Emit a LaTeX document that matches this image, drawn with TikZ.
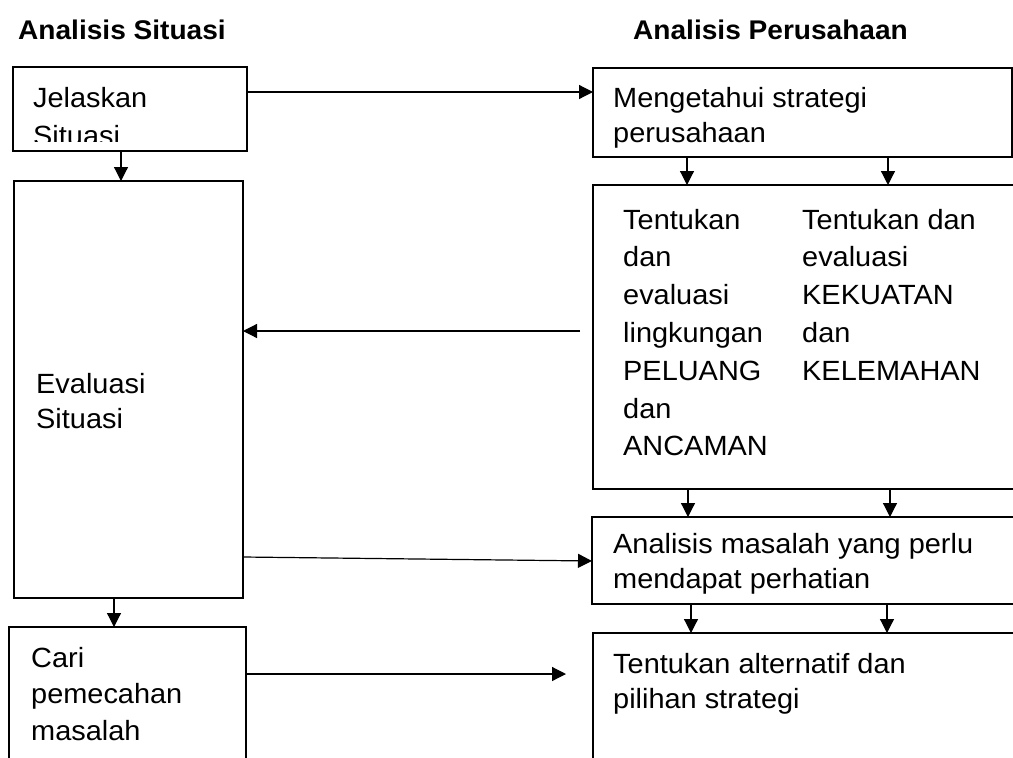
\documentclass[tikz,border=0pt]{standalone}
\usepackage{fontspec}
\setmainfont{Liberation Sans}[FakeStretch=1.04]
\usetikzlibrary{arrows.meta}
\tikzset{
  box/.style={draw, line width=1.5pt, inner sep=0pt, outer sep=0pt},
  arr/.style={line width=1.2pt, -{Triangle[length=14pt,width=14pt]}},
  txt/.style={anchor=base west, inner sep=0pt, align=left, font=\fontsize{27.8}{35}\selectfont},
  ttl/.style={anchor=base west, inner sep=0pt, font=\fontsize{27}{30}\selectfont\bfseries},
}
\begin{document}
\begin{tikzpicture}[x=1pt,y=-1pt]
\useasboundingbox (0,0) rectangle (1013,758);
\clip (0,0) rectangle (1013,758);
% titles
\node[ttl] (t1) at (18,39) {Analisis Situasi};
\node[ttl] (t2) at (633,39) {Analisis Perusahaan};
% boxes
\node[box, minimum width=234pt, minimum height=84pt] (jel) at (130,109) {};
\node[box, minimum width=229pt, minimum height=417pt] (eva) at (128.5,389.5) {};
\node[box, minimum width=237pt, minimum height=160pt] (cari) at (127.5,707) {};
\node[box, minimum width=419pt, minimum height=89pt] (meng) at (802.5,112.5) {};
\node[box, minimum width=440pt, minimum height=304pt] (tent) at (813,337) {};
\node[box, minimum width=440pt, minimum height=87pt] (anal) at (812,560.5) {};
\node[box, minimum width=440pt, minimum height=150pt] (alt) at (813,708) {};
% texts (anchor = baseline of the last line)
\begin{scope}
\clip (0,60) rectangle (250,141);
\node[txt, font=\fontsize{27.8}{38}\selectfont] (jeltxt) at (33,145) {Jelaskan\\Situasi};
\end{scope}
\node[txt] (evatxt) at (36,428) {Evaluasi\\Situasi};
\node[txt, font=\fontsize{27.8}{36.5}\selectfont] (caritxt) at (31,740) {Cari\\pemecahan\\masalah};
\node[txt] (mengtxt) at (613,142) {Mengetahui strategi\\perusahaan};
\node[txt, font=\fontsize{27.8}{37.8}\selectfont] (tenta) at (623,455.8) {Tentukan\\dan\\evaluasi\\lingkungan\\PELUANG\\dan\\ANCAMAN};
\node[txt, font=\fontsize{27.8}{37.8}\selectfont] (tentb) at (802,380.2) {Tentukan dan\\evaluasi\\KEKUATAN\\dan\\KELEMAHAN};
\node[txt] (analtxt) at (613,588) {Analisis masalah yang perlu\\mendapat perhatian};
\node[txt] (alttxt) at (613,708) {Tentukan alternatif dan\\pilihan strategi};
% connectors
\draw[arr] (jel.east |- 0,92) -- (meng.west |- 0,92);
\draw[arr] (jel.south -| 121,0) -- (eva.north -| 121,0);
\draw[arr] (eva.south -| 114,0) -- (cari.north -| 114,0);
\draw[arr] (meng.south -| 687,0) -- (tent.north -| 687,0);
\draw[arr] (meng.south -| 888,0) -- (tent.north -| 888,0);
\draw[arr] (tent.south -| 688,0) -- (anal.north -| 688,0);
\draw[arr] (tent.south -| 890,0) -- (anal.north -| 890,0);
\draw[arr] (anal.south -| 691,0) -- (alt.north -| 691,0);
\draw[arr] (anal.south -| 887,0) -- (alt.north -| 887,0);
\coordinate (tentout) at ([xshift=-13pt]tent.west |- 0,331);
\draw[arr] (tentout) -- (eva.east |- 0,331);
\draw[arr] (eva.east |- 0,557) -- (anal.west |- 0,561);
\coordinate (altin) at ([xshift=-27pt]alt.west |- 0,674);
\draw[arr] (cari.east |- 0,674) -- (altin);
\end{tikzpicture}
\end{document}
